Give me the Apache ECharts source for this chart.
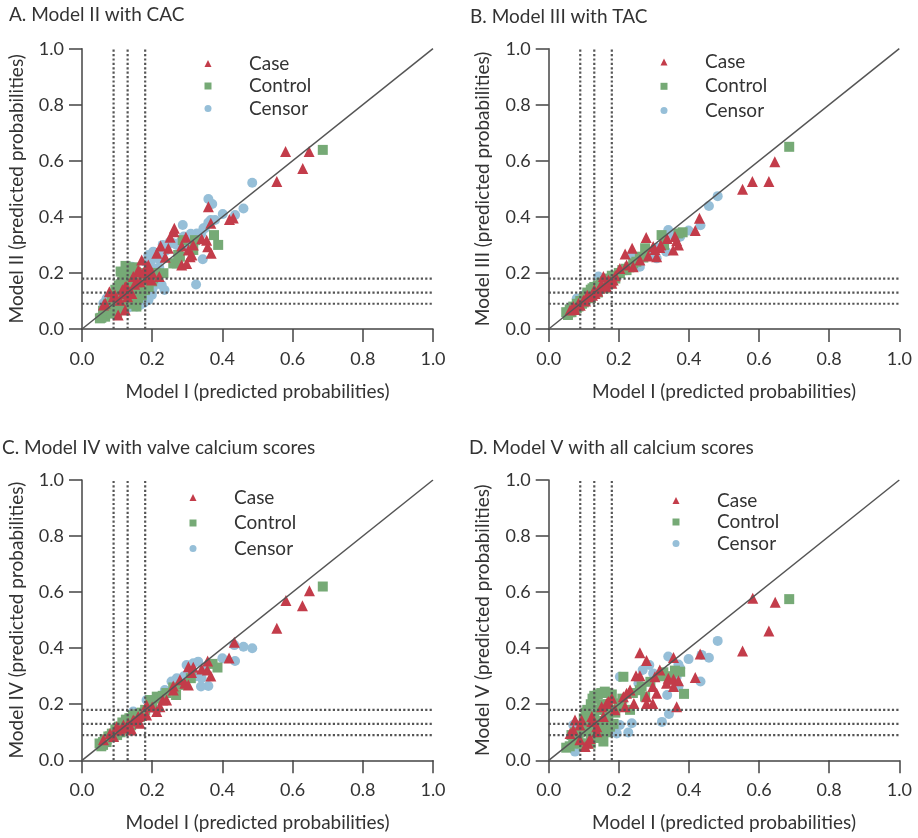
<!DOCTYPE html>
<html>
<head>
<meta charset="utf-8">
<script src="https://cdn.jsdelivr.net/npm/echarts@6/dist/echarts.min.js"></script>
<style>
  html, body { margin: 0; padding: 0; background: #fff; }
  #chart { width: 918px; height: 838px; }
</style>
</head>
<body>
<div id="chart"></div>
<script>
// Model I predicted probability (x) vs. extended model predicted probability (y)

const groups = ['Case', 'Control', 'Censor'];
const tickValues = [0, 0.2, 0.4, 0.6, 0.8, 1.0];
const cutoffs = [0.09, 0.13, 0.18];

const panelTitles = [
  'A. Model II with CAC',
  'B. Model III with TAC',
  'C. Model IV with valve calcium scores',
  'D. Model V with all calcium scores'
];
const xAxisTitle = 'Model I (predicted probabilities)';
const yAxisTitles = [
  'Model II (predicted probabilities)',
  'Model III (predicted probabilities)',
  'Model IV (predicted probabilities)',
  'Model V (predicted probabilities)'
];

// Panel A: Model II with CAC
const caseA = [
  [0.580,0.633],[0.647,0.633],[0.629,0.573],[0.555,0.526],[0.360,0.436],[0.420,0.391],[0.431,0.396],
  [0.367,0.377],[0.263,0.359],[0.262,0.347],[0.251,0.327],[0.296,0.327],[0.224,0.296],[0.246,0.288],
  [0.284,0.296],[0.317,0.300],[0.341,0.322],[0.355,0.317],[0.358,0.293],[0.368,0.270],[0.303,0.282],
  [0.308,0.258],[0.284,0.228],[0.298,0.234],[0.313,0.264],[0.213,0.270],[0.237,0.256],[0.220,0.187],
  [0.170,0.246],[0.184,0.222],[0.189,0.228],[0.160,0.210],[0.165,0.205],[0.146,0.187],[0.156,0.169],
  [0.127,0.151],[0.123,0.151],[0.137,0.133],[0.142,0.127],[0.118,0.127],[0.094,0.121],[0.078,0.133],
  [0.089,0.115],[0.061,0.086],[0.066,0.092],[0.103,0.050],[0.123,0.068],[0.165,0.169],[0.184,0.181],
  [0.198,0.175],[0.108,0.103],[0.130,0.115],[0.150,0.160],[0.175,0.200],[0.115,0.140],[0.200,0.200],
  [0.190,0.210]
];
const controlA = [
  [0.686,0.639],[0.376,0.335],[0.388,0.300],[0.287,0.317],[0.279,0.258],[0.260,0.234],[0.232,0.199],
  [0.317,0.282],[0.322,0.317],[0.124,0.225],[0.270,0.234],[0.274,0.264],[0.203,0.181],[0.179,0.139],
  [0.051,0.038],[0.066,0.044],[0.055,0.040],[0.065,0.050],[0.070,0.060],[0.080,0.070],[0.075,0.090],
  [0.090,0.080],[0.095,0.100],[0.100,0.120],[0.105,0.140],[0.110,0.160],[0.115,0.170],[0.120,0.190],
  [0.130,0.200],[0.140,0.210],[0.150,0.220],[0.135,0.180],[0.145,0.170],[0.155,0.190],[0.160,0.200],
  [0.125,0.100],[0.130,0.090],[0.140,0.110],[0.150,0.120],[0.160,0.130],[0.165,0.140],[0.170,0.120],
  [0.175,0.150],[0.155,0.080],[0.145,0.100],[0.110,0.080],[0.100,0.060],[0.120,0.070],[0.085,0.110],
  [0.095,0.140],[0.105,0.155],[0.180,0.160],[0.190,0.150],[0.200,0.170],[0.210,0.200],[0.060,0.065],
  [0.085,0.055],[0.115,0.110],[0.125,0.130],[0.135,0.150],[0.145,0.140],[0.160,0.110],[0.170,0.180],
  [0.110,0.205],[0.140,0.195],[0.155,0.150],[0.100,0.080]
];
const censorA = [
  [0.485,0.522],[0.460,0.430],[0.436,0.407],[0.401,0.410],[0.360,0.464],[0.371,0.446],[0.367,0.389],
  [0.379,0.389],[0.287,0.371],[0.346,0.359],[0.327,0.341],[0.312,0.329],[0.344,0.249],[0.325,0.159],
  [0.260,0.306],[0.241,0.294],[0.203,0.276],[0.189,0.264],[0.227,0.157],[0.235,0.139],[0.203,0.151],
  [0.199,0.121],[0.189,0.103],[0.175,0.092],[0.156,0.080],[0.142,0.086],[0.070,0.109],[0.061,0.092],
  [0.142,0.222],[0.180,0.240],[0.190,0.230],[0.200,0.250],[0.210,0.260],[0.170,0.200],[0.160,0.180],
  [0.130,0.170],[0.120,0.160],[0.190,0.130],[0.180,0.110],[0.170,0.100],[0.160,0.090],[0.140,0.080],
  [0.120,0.085],[0.100,0.090],[0.080,0.100],[0.070,0.080],[0.060,0.070],[0.300,0.300],[0.320,0.320],
  [0.330,0.330],[0.340,0.340],[0.360,0.380],[0.270,0.300],[0.250,0.310],[0.230,0.270],[0.220,0.220],
  [0.150,0.100],[0.170,0.120],[0.180,0.140],[0.165,0.085],[0.130,0.075],[0.110,0.075],[0.200,0.140],
  [0.210,0.170],[0.220,0.250],[0.240,0.280],[0.280,0.310],[0.290,0.330],[0.310,0.340],[0.350,0.360],
  [0.230,0.300],[0.190,0.190],[0.200,0.220]
];

// Panel B: Model III with TAC
const caseB = [
  [0.645,0.597],[0.628,0.526],[0.581,0.526],[0.553,0.499],[0.430,0.395],[0.418,0.351],[0.278,0.326],
  [0.238,0.288],[0.218,0.268],[0.338,0.323],[0.365,0.315],[0.370,0.300],[0.355,0.282],[0.317,0.291],
  [0.303,0.284],[0.308,0.258],[0.284,0.260],[0.298,0.294],[0.260,0.246],[0.241,0.222],[0.222,0.228],
  [0.203,0.216],[0.156,0.187],[0.184,0.175],[0.180,0.163],[0.165,0.151],[0.146,0.145],[0.132,0.127],
  [0.118,0.115],[0.099,0.103],[0.085,0.092],[0.070,0.080],[0.061,0.068],[0.170,0.175],[0.190,0.190],
  [0.150,0.160],[0.130,0.140],[0.110,0.120],[0.360,0.330],[0.320,0.300],[0.125,0.120],[0.140,0.135],
  [0.160,0.155],[0.175,0.170],[0.105,0.100],[0.090,0.085],[0.075,0.070]
];
const controlB = [
  [0.686,0.650],[0.382,0.345],[0.370,0.341],[0.322,0.335],[0.275,0.288],[0.329,0.300],[0.260,0.258],
  [0.241,0.234],[0.222,0.210],[0.203,0.199],[0.050,0.060],[0.060,0.070],[0.070,0.080],[0.080,0.090],
  [0.090,0.100],[0.100,0.110],[0.110,0.130],[0.120,0.140],[0.130,0.150],[0.140,0.155],[0.150,0.165],
  [0.160,0.170],[0.170,0.180],[0.180,0.190],[0.190,0.190],[0.200,0.200],[0.210,0.210],[0.220,0.215],
  [0.100,0.095],[0.120,0.110],[0.140,0.130],[0.160,0.145],[0.060,0.060],[0.080,0.075],[0.055,0.050],
  [0.065,0.060],[0.085,0.080],[0.095,0.090],[0.105,0.115],[0.115,0.125],[0.125,0.145],[0.135,0.140],
  [0.145,0.150],[0.155,0.150],[0.170,0.160],[0.180,0.170],[0.190,0.180],[0.230,0.220],[0.250,0.240],
  [0.270,0.255]
];
const censorB = [
  [0.482,0.474],[0.457,0.439],[0.433,0.370],[0.399,0.351],[0.341,0.353],[0.356,0.335],[0.375,0.329],
  [0.335,0.276],[0.308,0.252],[0.260,0.222],[0.238,0.263],[0.213,0.213],[0.142,0.187],[0.080,0.109],
  [0.100,0.120],[0.120,0.135],[0.150,0.160],[0.170,0.175],[0.190,0.190],[0.200,0.200],[0.080,0.080],
  [0.310,0.290],[0.330,0.310],[0.065,0.075],[0.135,0.130],[0.160,0.160],[0.180,0.180],[0.290,0.270]
];

// Panel C: Model IV with valve calcium scores
const caseC = [
  [0.648,0.605],[0.581,0.570],[0.628,0.551],[0.555,0.471],[0.434,0.421],[0.419,0.365],[0.358,0.354],
  [0.303,0.334],[0.317,0.332],[0.341,0.326],[0.357,0.322],[0.367,0.301],[0.312,0.313],[0.303,0.269],
  [0.293,0.275],[0.279,0.287],[0.260,0.265],[0.260,0.251],[0.241,0.215],[0.222,0.191],[0.213,0.174],
  [0.184,0.197],[0.184,0.162],[0.160,0.156],[0.146,0.144],[0.132,0.132],[0.118,0.126],[0.099,0.120],
  [0.080,0.096],[0.061,0.073],[0.142,0.108],[0.165,0.132],[0.108,0.108],[0.125,0.115],[0.150,0.140],
  [0.170,0.160],[0.090,0.085],[0.200,0.190],[0.230,0.215]
];
const controlC = [
  [0.686,0.620],[0.386,0.331],[0.372,0.344],[0.310,0.293],[0.268,0.233],[0.284,0.269],[0.213,0.227],
  [0.194,0.215],[0.050,0.060],[0.060,0.065],[0.070,0.075],[0.080,0.085],[0.090,0.095],[0.100,0.105],
  [0.110,0.120],[0.120,0.130],[0.130,0.135],[0.140,0.150],[0.150,0.155],[0.160,0.165],[0.170,0.170],
  [0.180,0.180],[0.070,0.065],[0.090,0.085],[0.110,0.100],[0.130,0.120],[0.150,0.140],[0.060,0.055],
  [0.200,0.200],[0.220,0.220],[0.240,0.240],[0.055,0.050],[0.065,0.070],[0.075,0.085],[0.085,0.095],
  [0.095,0.110],[0.105,0.120],[0.115,0.135],[0.125,0.145],[0.135,0.150],[0.145,0.160],[0.155,0.150],
  [0.165,0.155],[0.175,0.165],[0.100,0.090],[0.120,0.110],[0.140,0.125],[0.230,0.230],[0.260,0.260]
];
const censorC = [
  [0.485,0.400],[0.460,0.405],[0.434,0.411],[0.436,0.354],[0.400,0.364],[0.360,0.265],[0.339,0.263],
  [0.341,0.293],[0.331,0.352],[0.317,0.346],[0.298,0.340],[0.270,0.293],[0.255,0.281],[0.236,0.251],
  [0.203,0.215],[0.184,0.215],[0.213,0.180],[0.146,0.174],[0.100,0.110],[0.120,0.125],[0.130,0.140],
  [0.080,0.085],[0.060,0.060],[0.150,0.150],[0.170,0.160],[0.270,0.280],[0.290,0.300],[0.115,0.100],
  [0.135,0.120],[0.160,0.145],[0.310,0.320],[0.325,0.300],[0.350,0.320]
];

// Panel D: Model V with all calcium scores
const caseD = [
  [0.582,0.578],[0.646,0.564],[0.628,0.461],[0.553,0.390],[0.432,0.379],[0.418,0.295],[0.356,0.367],
  [0.260,0.384],[0.279,0.356],[0.249,0.302],[0.260,0.302],[0.317,0.322],[0.303,0.298],[0.341,0.293],
  [0.356,0.289],[0.370,0.284],[0.356,0.263],[0.365,0.191],[0.336,0.275],[0.297,0.263],[0.308,0.239],
  [0.279,0.227],[0.297,0.203],[0.279,0.203],[0.243,0.203],[0.218,0.191],[0.213,0.227],[0.232,0.251],
  [0.222,0.239],[0.180,0.221],[0.165,0.203],[0.151,0.191],[0.189,0.180],[0.156,0.156],[0.123,0.156],
  [0.137,0.120],[0.123,0.138],[0.094,0.144],[0.075,0.144],[0.089,0.126],[0.061,0.096],[0.070,0.108],
  [0.118,0.078],[0.113,0.061],[0.104,0.049],[0.137,0.102],[0.089,0.073],[0.170,0.210]
];
const controlD = [
  [0.686,0.575],[0.213,0.298],[0.375,0.316],[0.386,0.237],[0.327,0.314],[0.275,0.227],[0.265,0.263],
  [0.232,0.180],[0.203,0.203],[0.050,0.045],[0.060,0.050],[0.070,0.060],[0.065,0.090],[0.075,0.100],
  [0.080,0.070],[0.090,0.060],[0.100,0.050],[0.110,0.060],[0.095,0.120],[0.100,0.150],[0.105,0.170],
  [0.110,0.180],[0.120,0.200],[0.125,0.220],[0.130,0.230],[0.140,0.235],[0.150,0.240],[0.160,0.245],
  [0.170,0.240],[0.180,0.235],[0.150,0.200],[0.140,0.180],[0.130,0.160],[0.120,0.130],[0.110,0.110],
  [0.120,0.090],[0.130,0.080],[0.140,0.100],[0.150,0.120],[0.160,0.140],[0.170,0.160],[0.180,0.180],
  [0.190,0.170],[0.185,0.130],[0.175,0.120],[0.165,0.100],[0.156,0.067],[0.145,0.080],[0.130,0.110],
  [0.140,0.140],[0.160,0.180],[0.170,0.200],[0.120,0.060],[0.085,0.085],[0.090,0.100],[0.200,0.200],
  [0.210,0.220],[0.240,0.240],[0.260,0.250],[0.290,0.280],[0.320,0.300],[0.350,0.300],[0.360,0.320]
];
const censorD = [
  [0.482,0.426],[0.457,0.366],[0.433,0.281],[0.436,0.376],[0.399,0.361],[0.341,0.370],[0.370,0.342],
  [0.375,0.328],[0.365,0.298],[0.370,0.263],[0.287,0.340],[0.268,0.322],[0.203,0.298],[0.256,0.275],
  [0.338,0.233],[0.343,0.165],[0.323,0.137],[0.237,0.132],[0.227,0.099],[0.203,0.126],[0.194,0.096],
  [0.184,0.102],[0.075,0.031],[0.070,0.126],[0.336,0.298],[0.346,0.287],[0.298,0.310]
];

const panelData = [
  { Case: caseA, Control: controlA, Censor: censorA },
  { Case: caseB, Control: controlB, Censor: censorB },
  { Case: caseC, Control: controlC, Censor: censorC },
  { Case: caseD, Control: controlD, Censor: censorD }
];

const FONT = 'Lato';
const TEXT = '#333333';
const AXIS = '#444444';
const REF = '#555555';
const colors = { Case: '#c33c4a', Control: '#76aa76', Censor: '#96bfd8' };
const symbols = { Case: 'triangle', Control: 'rect', Censor: 'circle' };
const sizes = { Case: 11, Control: 10, Censor: 10 };

// Layout of the four plotting areas
const grids = [
  { left: 82, top: 48.7, width: 351, height: 280.3 },
  { left: 548.7, top: 48.7, width: 350.6, height: 280.3 },
  { left: 82, top: 480, width: 351, height: 280.3 },
  { left: 548.7, top: 480, width: 350.6, height: 280.3 }
];
const titlePos = [
  { left: 9, top: 5 }, { left: 470, top: 7 }, { left: 2, top: 438 }, { left: 469, top: 438 }
];
// symbol centre x, first row centre y, row pitch
const legendPos = [
  { cx: 208, cy: 63, pitch: 21.5 },
  { cx: 664, cy: 61.5, pitch: 23.3 },
  { cx: 193, cy: 497, pitch: 24.5 },
  { cx: 676, cy: 500, pitch: 20.5 }
];
const ICON = 7;
const LINE_H = 18;

const option = {
  animation: false,
  backgroundColor: '#ffffff',
  textStyle: { fontFamily: FONT, color: TEXT },
  title: panelTitles.map((t, i) => ({
    text: t, left: titlePos[i].left, top: titlePos[i].top, padding: 0,
    textStyle: { fontFamily: FONT, fontSize: 19, fontWeight: 'normal', color: TEXT }
  })),
  legend: legendPos.map((p) => ({
    data: groups, orient: 'vertical', left: p.cx - ICON / 2, top: p.cy - LINE_H / 2, padding: 0,
    itemWidth: ICON, itemHeight: ICON, itemGap: p.pitch - LINE_H,
    textStyle: { fontFamily: FONT, fontSize: 19, color: TEXT, lineHeight: LINE_H,
      padding: [0, 0, 0, 41 - ICON / 2 - 5] }
  })),
  grid: grids.map(g => Object.assign({ containLabel: false }, g)),
  xAxis: grids.map((g, i) => ({
    gridIndex: i, type: 'value', min: 0, max: 1, interval: 0.2,
    name: xAxisTitle, nameLocation: 'middle', nameGap: 53,
    nameTextStyle: { fontFamily: FONT, fontSize: 19, color: TEXT },
    axisLine: { show: true, onZero: false, lineStyle: { color: AXIS, width: 1.5 } },
    axisTick: { show: true, length: 13, lineStyle: { color: AXIS, width: 1.5 } },
    axisLabel: { margin: 21, fontFamily: FONT, fontSize: 18, color: TEXT,
      formatter: v => v.toFixed(1) },
    splitLine: { show: false }
  })),
  yAxis: grids.map((g, i) => ({
    gridIndex: i, type: 'value', min: 0, max: 1, interval: 0.2,
    name: yAxisTitles[i], nameLocation: 'middle', nameGap: 56,
    nameTextStyle: { fontFamily: FONT, fontSize: 19, color: TEXT },
    axisLine: { show: true, onZero: false, lineStyle: { color: AXIS, width: 1.5 } },
    axisTick: { show: true, length: 13, lineStyle: { color: AXIS, width: 1.5 } },
    axisLabel: { margin: 18, fontFamily: FONT, fontSize: 18, color: TEXT,
      formatter: v => v.toFixed(1) },
    splitLine: { show: false }
  })),
  series: []
};

panelData.forEach((pd, i) => {
  // points: censored drawn first, cases on top
  ['Censor', 'Control', 'Case'].forEach(g => {
    option.series.push({
      name: g, type: 'scatter', xAxisIndex: i, yAxisIndex: i,
      symbol: symbols[g], symbolSize: sizes[g],
      itemStyle: { color: colors[g], opacity: 1 },
      data: pd[g], z: 2
    });
  });
  // dotted cut-off lines
  cutoffs.forEach(c => {
    option.series.push({
      type: 'line', xAxisIndex: i, yAxisIndex: i, symbol: 'none', silent: true, z: 3,
      lineStyle: { color: REF, width: 2.2, type: [2.2, 2.2], cap: 'butt' },
      data: [[c, 0], [c, 1]]
    });
    option.series.push({
      type: 'line', xAxisIndex: i, yAxisIndex: i, symbol: 'none', silent: true, z: 3,
      lineStyle: { color: REF, width: 2.2, type: [2.2, 2.2], cap: 'butt' },
      data: [[0, c], [1, c]]
    });
  });
  // line of identity
  option.series.push({
    type: 'line', xAxisIndex: i, yAxisIndex: i, symbol: 'none', silent: true, z: 4,
    lineStyle: { color: REF, width: 1.5 },
    data: [[0, 0], [1, 1]]
  });
});

const chart = echarts.init(document.getElementById('chart'), null, { renderer: 'canvas' });
chart.setOption(option);
</script>
</body>
</html>
